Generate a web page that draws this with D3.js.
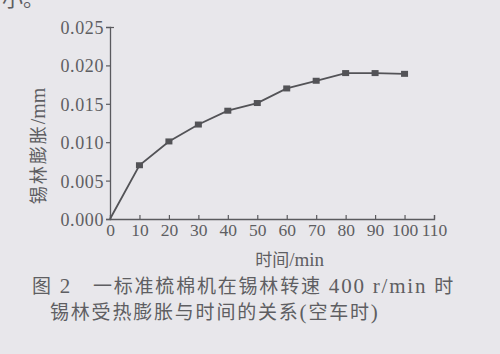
<!DOCTYPE html>
<html>
<head>
<meta charset="utf-8">
<script src="https://cdn.jsdelivr.net/npm/d3@7"></script>
<style>
  body { margin: 0; background: #e8e7eb; }
  svg { display: block; }
  text { fill: #5e5e62; }
  .serif { font-family: "Liberation Serif", "Times New Roman", Times, "DejaVu Serif", serif; }
  .cjk { font-family: "Noto Sans CJK SC", sans-serif; }
</style>
</head>
<body>
<svg id="chart"></svg>
<script>
// time (min) and tin-roller expansion (mm)
const times = [0, 10, 20, 30, 40, 50, 60, 70, 80, 90, 100];
const expansion = [0, 0.007, 0.0101, 0.0123, 0.0141, 0.0151, 0.0170, 0.0180, 0.0190, 0.0190, 0.0189];
const xTicks = [0, 10, 20, 30, 40, 50, 60, 70, 80, 90, 100, 110];
const yTicks = [0, 0.005, 0.010, 0.015, 0.020, 0.025];
const xLabel = ["时间", "/min"];
const yLabel = ["锡林膨胀", "/mm"];
const captionLines = ["图 2　一标准梳棉机在锡林转速 400 r/min 时", "锡林受热膨胀与时间的关系(空车时)"];

const width = 500, height = 354;
const margin = { top: 27, right: 66, bottom: 135, left: 110 };
const ink = "#5a5a5e";

const svg = d3.select("#chart").attr("width", width).attr("height", height);

const x = d3.scaleLinear().domain([0, 110]).range([margin.left, width - margin.right]);
const y = d3.scaleLinear().domain([0, 0.025]).range([height - margin.bottom, margin.top]);

// cut-off text from the page above
svg.append("text")
  .attr("class", "cjk")
  .attr("x", 2).attr("y", 6)
  .style("font-size", "21px")
  .text("小。");

// x axis, ticks pointing inward
const xAxis = svg.append("g")
  .attr("transform", `translate(0,${y(0)})`)
  .call(d3.axisBottom(x).tickValues(xTicks).tickSize(-4).tickPadding(5).tickFormat(d3.format("d")));

// y axis, ticks pointing outward
const yAxis = svg.append("g")
  .attr("transform", `translate(${x(0)},0)`)
  .call(d3.axisLeft(y).tickValues(yTicks).tickSize(4).tickPadding(2).tickFormat(d3.format(".3f")));

// top tick turns to the right like in the print
yAxis.selectAll(".tick").filter(d => d === 0.025).select("line").attr("x2", 4);

[xAxis, yAxis].forEach(g => {
  g.attr("font-family", null).attr("font-size", null);
  g.select(".domain").attr("stroke", ink).attr("stroke-width", 1.3);
  g.selectAll(".tick line").attr("stroke", ink).attr("stroke-width", 1.2);
  g.selectAll(".tick text")
    .attr("class", "serif")
    .attr("fill", "#606064");
});
yAxis.selectAll(".tick text")
  .style("font-size", "18px")
  .style("letter-spacing", "0.6px")
  .attr("dy", "0.36em");
xAxis.selectAll(".tick text")
  .style("font-size", "17.5px");

const line = d3.line()
  .x((d, i) => x(times[i]))
  .y(d => y(d));

svg.append("path")
  .datum(expansion)
  .attr("fill", "none")
  .attr("stroke", "#535357")
  .attr("stroke-width", 1.8)
  .attr("d", line);

svg.selectAll(".pt")
  .data(expansion.slice(1))
  .enter()
  .append("rect")
  .attr("class", "pt")
  .attr("x", (d, i) => x(times[i + 1]) - 3.5)
  .attr("y", d => y(d) - 3)
  .attr("width", 7)
  .attr("height", 6)
  .attr("fill", "#535357");

// axis titles
const xt = svg.append("text")
  .attr("x", x(61))
  .attr("y", 266)
  .attr("text-anchor", "middle")
  .style("font-size", "17px");
xt.append("tspan").attr("class", "cjk").text(xLabel[0]);
xt.append("tspan").attr("class", "serif").style("font-size", "19px").text(xLabel[1]);

const yt = svg.append("text")
  .attr("transform", "translate(45,146) rotate(-90)")
  .attr("text-anchor", "middle")
  .style("font-size", "18px");
yt.append("tspan").attr("class", "cjk").style("letter-spacing", "2px").text(yLabel[0]);
yt.append("tspan").attr("class", "serif").style("font-size", "20px").text(yLabel[1]);

// figure caption, latin runs set in a serif face as in the print
svg.selectAll(".caption")
  .data(captionLines)
  .enter()
  .append("text")
  .attr("x", (d, i) => i === 0 ? 32 : 50)
  .attr("y", (d, i) => 293 + i * 26)
  .style("font-size", "19px")
  .style("letter-spacing", "1.8px")
  .each(function(d) {
    const runs = d.match(/[0-9A-Za-z/ .()]+|[^0-9A-Za-z/ .()]+/g);
    const t = d3.select(this);
    runs.forEach(r => {
      const latin = /^[0-9A-Za-z/ .()]+$/.test(r);
      t.append("tspan")
        .attr("class", latin ? "serif" : "cjk")
        .style("font-size", latin ? "21px" : null)
        .text(r);
    });
  });
</script>
</body>
</html>
